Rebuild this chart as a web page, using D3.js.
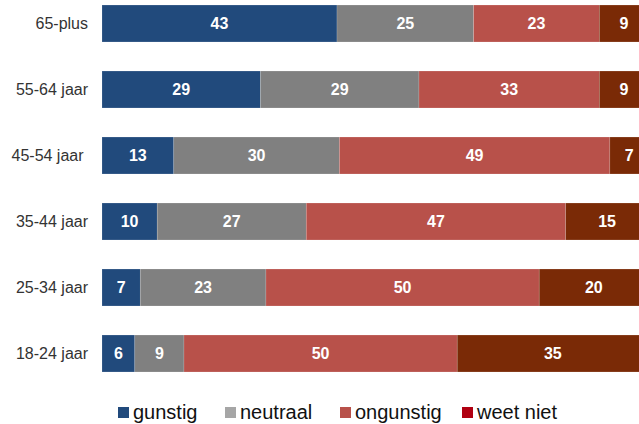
<!DOCTYPE html>
<html><head><meta charset="utf-8">
<script src="https://cdn.jsdelivr.net/npm/d3@7"></script>
<style>
body{margin:0;background:#fff;}
text{font-family:"Liberation Sans",Arial,sans-serif;}
</style></head>
<body><svg id="c" width="639" height="424"></svg>
<script>
const categories = ["65-plus","55-64 jaar","45-54 jaar\u00a0","35-44 jaar","25-34 jaar","18-24 jaar"];
const seriesNames = ["gunstig","neutraal","ongunstig","weet niet"];
const gunstig   = [43,29,13,10,7,6];
const neutraal  = [25,29,30,27,23,9];
const ongunstig = [23,33,49,47,50,50];
const weetNiet  = [9,9,7,15,20,35];
const barColors = ["#214a7c","#808080","#b8514a","#7a2a06"];
const legendColors = ["#214a7c","#a6a6a6","#b8514a","#b00012"];

const seriesValues = [gunstig, neutraal, ongunstig, weetNiet];
const rows = categories.map((c,i)=>{
  const r = {cat:c};
  seriesNames.forEach((s,j)=>r[s]=seriesValues[j][i]);
  return r;
});
const stack = d3.stack().keys(seriesNames).offset(d3.stackOffsetExpand)(rows);

const svg = d3.select("#c");
const x = d3.scaleLinear().domain([0,1]).range([102,648.5]);
const y = d3.scaleBand().domain(categories).range([-9.5,386.5]).paddingInner(0.44).paddingOuter(0.22);

const g = svg.append("g");
stack.forEach((layer,j)=>{
  const key = seriesNames[j];
  const lg = g.append("g").attr("fill",barColors[j]);
  lg.selectAll("rect").data(layer).join("rect")
    .attr("x",d=>x(d[0])).attr("width",d=>x(d[1])-x(d[0]))
    .attr("y",d=>y(d.data.cat)).attr("height",y.bandwidth())
    .attr("stroke","rgba(255,255,255,0.25)").attr("stroke-width",0.6);
  lg.selectAll("text").data(layer).join("text")
    .attr("x",d=>(x(d[0])+x(d[1]))/2)
    .attr("y",d=>y(d.data.cat)+y.bandwidth()/2)
    .attr("dy","0.36em").attr("text-anchor","middle")
    .attr("fill","#fff").attr("font-weight","bold").attr("font-size","16px")
    .text(d=>d.data[key]);
});

svg.append("g").selectAll("text").data(categories).join("text")
  .attr("x",88).attr("y",c=>y(c)+y.bandwidth()/2).attr("dy","0.36em")
  .attr("text-anchor","end").attr("font-size","16px").attr("fill","#333")
  .style("white-space","pre").text(c=>c);

const legendX = [118,225,340,462];
const leg = svg.append("g");
seriesNames.forEach((s,j)=>{
  leg.append("rect").attr("x",legendX[j]).attr("y",407).attr("width",11).attr("height",11).attr("fill",legendColors[j]);
  leg.append("text").attr("x",legendX[j]+15).attr("y",419).attr("font-size","20px").attr("fill","#111").text(s);
});
</script></body></html>
